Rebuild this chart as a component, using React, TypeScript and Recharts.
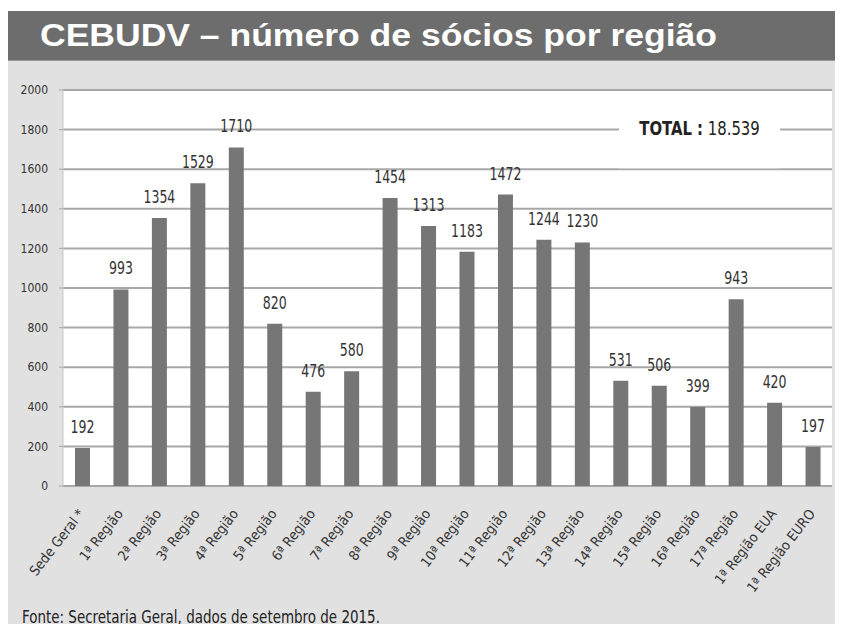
import React from 'react';
import { BarChart, Bar, XAxis, YAxis, CartesianGrid, LabelList, ReferenceArea } from 'recharts';

const categories = [
  'Sede Geral *', '1ª Região', '2ª Região', '3ª Região', '4ª Região', '5ª Região', '6ª Região',
  '7ª Região', '8ª Região', '9ª Região', '10ª Região', '11ª Região', '12ª Região', '13ª Região',
  '14ª Região', '15ª Região', '16ª Região', '17ª Região', '1ª Região EUA', '1ª Região EURO',
];
const socios = [192, 993, 1354, 1529, 1710, 820, 476, 580, 1454, 1313, 1183, 1472, 1244, 1230, 531, 506, 399, 943, 420, 197];
const yTicks = [0, 200, 400, 600, 800, 1000, 1200, 1400, 1600, 1800, 2000];
const totalLabel = '18.539';

const data = categories.map((name, i) => ({ name, socios: socios[i] }));
const boundaryTicks = categories.map((_, i) => i).concat(categories.length);

const narrow = "'Liberation Sans Narrow', 'DejaVu Sans Condensed', sans-serif";

const XTick = (props: any) => {
  const { x, y, payload } = props;
  return (
    <g transform={`translate(${x + 3},${y + 20})`}>
      <text textAnchor="end" transform="rotate(-52)" fontSize={14} fill="#333" fontFamily={narrow}>
        {payload.value}
      </text>
    </g>
  );
};

const ValueLabel = (props: any) => {
  const { x, y, width, value } = props;
  return (
    <text
      transform={`translate(${x + width / 2},${y - 15}) scale(0.82,1)`}
      textAnchor="middle"
      fontSize={17}
      fill="#333"
      fontFamily={narrow}
    >
      {value}
    </text>
  );
};

const TotalLabel = (props: any) => {
  const { viewBox } = props;
  const cx = viewBox.x + viewBox.width / 2;
  return (
    <text
      transform={`translate(${cx},${viewBox.y + 17}) scale(0.87,1)`}
      textAnchor="middle"
      fontSize={19}
      fill="#222"
      fontFamily={narrow}
    >
      <tspan fontWeight="bold">TOTAL :</tspan>
      <tspan> {totalLabel}</tspan>
    </text>
  );
};

export default function App() {
  return (
    <div style={{ position: 'relative', width: 843, height: 632, margin: -8, background: '#fff', overflow: 'hidden' }}>
      <div style={{ position: 'absolute', left: 7, top: 60, width: 836, height: 572, background: '#e1e1e1' }} />
      <div
        style={{
          position: 'absolute', left: 7, top: 11, width: 836, height: 49, background: '#6d6d6d',
          borderBottom: '1px solid #9a9a9a',
        }}
      >
        <div
          style={{
            position: 'absolute', left: 33, top: 0, color: '#fff', whiteSpace: 'nowrap',
            fontFamily: "'Liberation Sans', Arial, sans-serif", fontWeight: 'bold', fontSize: 32,
            lineHeight: '49px', transform: 'scaleX(1.11)', transformOrigin: 'left center',
          }}
        >
          CEBUDV – número de sócios por região
        </div>
      </div>
      <div style={{ position: 'absolute', left: 0, top: 0 }}>
        <BarChart width={843} height={632} data={data} margin={{ top: 90, right: 11, bottom: 46, left: 23 }}>
          <CartesianGrid vertical={false} fill="#fff" fillOpacity={1} stroke="#a8a8a8" strokeWidth={2} />
          <XAxis
            xAxisId="num"
            type="number"
            dataKey={() => 0}
            domain={[0, categories.length]}
            ticks={boundaryTicks}
            tickFormatter={() => ''}
            height={0}
            axisLine={{ stroke: '#a8a8a8', strokeWidth: 2 }}
            tickLine={{ stroke: '#999' }}
            tickSize={5}
            allowDataOverflow
          />
          <XAxis dataKey="name" interval={0} height={100} axisLine={false} tickLine={false} tick={<XTick />} />
          <YAxis
            domain={[0, 2000]}
            ticks={yTicks}
            interval={0}
            width={40}
            tickSize={4}
            tickMargin={11}
            axisLine={{ stroke: '#c8c8c8' }}
            tickLine={{ stroke: '#a8a8a8' }}
            tick={{ fontSize: 12, fill: '#333', fontFamily: narrow }}
          />
          <YAxis yAxisId="r" orientation="right" width={0} tick={false} tickLine={false} axisLine={{ stroke: '#c8c8c8' }} />
          <ReferenceArea
            xAxisId="num"
            x1={14.46}
            x2={18.65}
            y1={1605}
            y2={1860}
            fill="#fff"
            fillOpacity={1}
            stroke="none"
            label={<TotalLabel />}
          />
          <Bar dataKey="socios" fill="#767676" barSize={15} isAnimationActive={false}>
            <LabelList dataKey="socios" content={<ValueLabel />} />
          </Bar>
        </BarChart>
      </div>
      <div
        style={{
          position: 'absolute', left: 22, top: 606, fontSize: 17, color: '#222', fontFamily: narrow,
          lineHeight: '22px', whiteSpace: 'nowrap', transform: 'scaleX(0.88)', transformOrigin: 'left center',
        }}
      >
        Fonte: Secretaria Geral, dados de setembro de 2015.
      </div>
    </div>
  );
}
